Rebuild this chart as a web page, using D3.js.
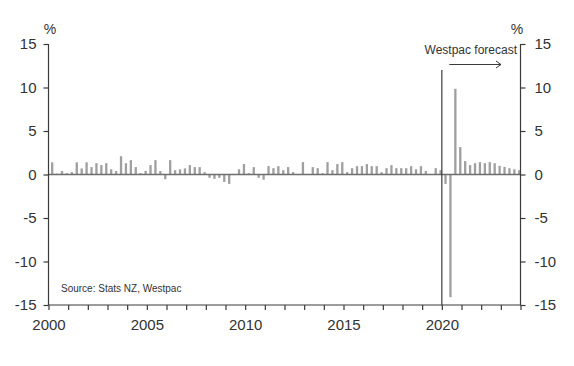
<!DOCTYPE html>
<html><head><meta charset="utf-8">
<script src="https://cdn.jsdelivr.net/npm/d3@7"></script>
<style>
html,body{margin:0;padding:0;background:#fff;}
svg{display:block;font-family:"Liberation Sans",Arial,sans-serif;}
</style></head>
<body>
<svg id="chart" width="574" height="366"></svg>
<script>
// ---- data ----
const years = d3.range(2000, 2024);
const quarterNames = ["Q1", "Q2", "Q3", "Q4"];
// quarterly % change (2000Q1 .. 2023Q4)
const values = [
  1.4, 0.1, 0.4, 0.15,   0.27, 1.4, 0.7, 1.4,    0.85, 1.3, 1.08, 1.3,   0.6, 0.4, 2.1, 1.3,
  1.65, 0.85, 0.15, 0.4, 1.08, 1.65, 0.4, -0.55, 1.65, 0.5, 0.6, 0.7,    1.08, 0.85, 0.85, 0.27,
  -0.38, -0.5, -0.38, -0.85, -1.08, 0.05, 0.6, 1.2, 0.15, 0.85, -0.38, -0.6, 0.96, 0.73, 0.96, 0.5,
  0.85, 0.27, 0.05, 1.42, 0.05, 0.85, 0.73, 0.15,  1.42, 0.5, 1.2, 1.42,  0.27, 0.73, 0.96, 0.96,
  1.2, 0.96, 0.96, 0.27,  0.73, 1.08, 0.73, 0.73,  0.73, 0.96, 0.6, 0.96,  0.4, 0.05, 0.73, 0.5,
  -1.08, -14.1, 9.85, 3.15, 1.54, 1.08, 1.3, 1.42, 1.3, 1.42, 1.3, 0.99, 0.87, 0.72, 0.6, 0.49
];
const xTickLabels = [2000, 2005, 2010, 2015, 2020];
const yTickLabels = [-15, -10, -5, 0, 5, 10, 15];
const forecastStart = 2020;
const forecastLabel = "Westpac forecast";
const sourceLabel = "Source: Stats NZ, Westpac";
const unitLabel = "%";

const categories = [];
years.forEach(y => quarterNames.forEach((q, qi) => categories.push({label: y + q, t: y + qi / 4})));
const data = categories.map((c, i) => ({label: c.label, t: c.t, v: values[i]}));

// ---- layout ----
const svg = d3.select("#chart");
const x = d3.scaleLinear().domain([2000, 2024]).range([48.5, 520.5]);
const y = d3.scaleLinear().domain([-15, 15]).range([305, 44]);
const axisCol = "#3a3a3a";
const textCol = "#333";
const barW = 2.3;

// bars
svg.append("g").selectAll("rect").data(data).join("rect")
  .attr("x", d => x(d.t + 0.75 / 4) - barW / 2)
  .attr("width", barW)
  .attr("y", d => y(Math.max(0, d.v)))
  .attr("height", d => Math.abs(y(d.v) - y(0)))
  .attr("fill", "#9f9f9f");

// zero line
svg.append("line")
  .attr("x1", x(2000)).attr("x2", x(2024))
  .attr("y1", y(0)).attr("y2", y(0))
  .attr("stroke", "#6e6e6e").attr("stroke-width", 1.4);

// forecast divider
svg.append("line")
  .attr("x1", x(forecastStart)).attr("x2", x(forecastStart))
  .attr("y1", y(-15)).attr("y2", y(12))
  .attr("stroke", axisCol).attr("stroke-width", 1.2);

// axes
const fmt = d => String(d).replace("-", "-");
const left = svg.append("g").attr("transform", `translate(${x(2000)},0)`)
  .call(d3.axisLeft(y).tickValues(yTickLabels).tickSize(5).tickPadding(7).tickFormat(fmt));
const right = svg.append("g").attr("transform", `translate(${x(2024)},0)`)
  .call(d3.axisRight(y).tickValues(yTickLabels).tickSize(5).tickPadding(9).tickFormat(fmt));
const bottom = svg.append("g").attr("transform", `translate(0,${y(-15)})`)
  .call(d3.axisBottom(x).tickValues(d3.range(2000, 2025)).tickSize(5).tickPadding(6)
    .tickFormat(d => xTickLabels.includes(d) ? String(d) : ""));
[left, right, bottom].forEach(g => {
  g.select(".domain").attr("stroke", axisCol).attr("stroke-width", 1.2);
  g.selectAll(".tick line").attr("stroke", axisCol).attr("stroke-width", 1.2);
  g.selectAll(".tick text").attr("fill", textCol).style("font-size", "15px")
    .style("font-family", "'Liberation Sans', Arial, sans-serif");
});
left.select(".domain").attr("d", `M0,${y(15)}V${y(-15)}`);
right.select(".domain").attr("d", `M0,${y(15)}V${y(-15)}`);
bottom.select(".domain").attr("d", `M${x(2000)},0H${x(2024)}`);
bottom.selectAll(".tick text").attr("dy", "0.9em");

// unit labels
svg.append("text").attr("x", 50).attr("y", 34).attr("text-anchor", "middle")
  .attr("fill", textCol).style("font-size", "14px").text(unitLabel);
svg.append("text").attr("x", 517).attr("y", 34).attr("text-anchor", "middle")
  .attr("fill", textCol).style("font-size", "14px").text(unitLabel);

// forecast annotation
svg.append("text").attr("x", 517).attr("y", 54).attr("text-anchor", "end")
  .attr("fill", textCol).style("font-size", "12px").text(forecastLabel);
const ay = 64.5, ax1 = x(forecastStart) + 7.5, ax2 = 501;
svg.append("path")
  .attr("d", `M${ax1},${ay}H${ax2}M${ax2 - 5},${ay - 3.5}L${ax2},${ay}L${ax2 - 5},${ay + 3.5}`)
  .attr("fill", "none").attr("stroke", axisCol).attr("stroke-width", 1);

// source
svg.append("text").attr("x", 61).attr("y", 292)
  .attr("fill", textCol).style("font-size", "10px").text(sourceLabel);
</script>
</body></html>
